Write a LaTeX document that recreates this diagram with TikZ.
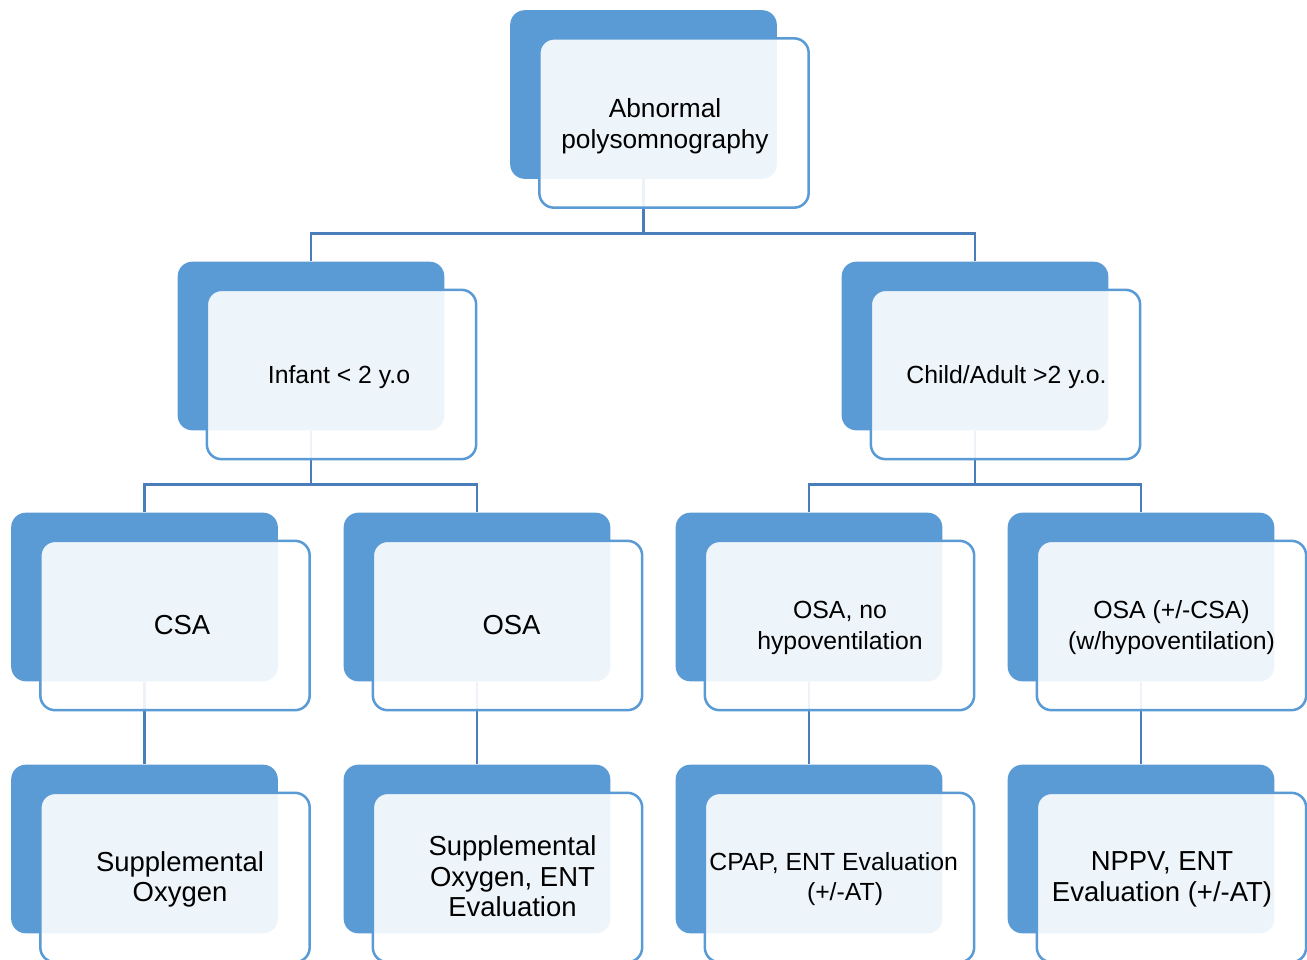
\documentclass[tikz,border=0pt]{standalone}
\usepackage{fontspec}
\setmainfont{Liberation Sans}
\usetikzlibrary{positioning}
\definecolor{boxblue}{HTML}{5B9BD5}
\definecolor{lineblue}{HTML}{4A7EBB}

\begin{document}
\begin{tikzpicture}[x=0.75pt,y=-0.75pt,
  back/.style={fill=boxblue,rounded corners=11pt,minimum width=200pt,minimum height=126.5pt,inner sep=0pt},
  front/.style={draw=boxblue,line width=1.9pt,fill=white,fill opacity=0.9,rounded corners=11pt,
    minimum width=202pt,minimum height=127pt,inner sep=0pt},
  conn/.style={draw=lineblue,line width=2.2pt},
  txt/.style={align=center,inner sep=0pt},
  big/.style={txt,font=\fontsize{20.6}{23}\selectfont},
  small/.style={txt,font=\fontsize{18.6}{23}\selectfont}]
\useasboundingbox (0,0) rectangle (1307,960);

% back boxes
\node[back] (apsgbk) at (643.5,94.5) {};
\node[back] (infantbk) at (311,346) {};
\node[back] (childbk) at (975,346) {};
\node[back] (csabk) at (144.5,597) {};
\node[back] (osabk) at (477,597) {};
\node[back] (osanobk) at (809,597) {};
\node[back] (osahypobk) at (1141,597) {};
\node[back] (oxybk) at (144.5,849) {};
\node[back] (oxyentbk) at (477,849) {};
\node[back] (cpapbk) at (809,849) {};
\node[back] (nppvbk) at (1141,849) {};

% connectors
\draw[conn] (apsgbk.south) |- ([yshift=20.6pt]infantbk.north) -- (infantbk.north);
\draw[conn] (apsgbk.south) |- ([yshift=20.6pt]childbk.north) -- (childbk.north);
\draw[conn] (infantbk.south) |- ([yshift=20.6pt]csabk.north) -- (csabk.north);
\draw[conn] (infantbk.south) |- ([yshift=20.6pt]osabk.north) -- (osabk.north);
\draw[conn] (childbk.south) |- ([yshift=20.6pt]osanobk.north) -- (osanobk.north);
\draw[conn] (childbk.south) |- ([yshift=20.6pt]osahypobk.north) -- (osahypobk.north);
\draw[conn] (csabk.south) -- (oxybk.north);
\draw[conn] (osabk.south) -- (oxyentbk.north);
\draw[conn] (osanobk.south) -- (cpapbk.north);
\draw[conn] (osahypobk.south) -- (nppvbk.north);

% front boxes
\node[front] (apsg) at ([shift={(30.5,28.5)}]apsgbk.center) {};
\node[front] (infant) at ([shift={(30.5,28.5)}]infantbk.center) {};
\node[front] (child) at ([shift={(30.5,28.5)}]childbk.center) {};
\node[front] (csa) at ([shift={(30.5,28.5)}]csabk.center) {};
\node[front] (osa) at ([shift={(30.5,28.5)}]osabk.center) {};
\node[front] (osano) at ([shift={(30.5,28.5)}]osanobk.center) {};
\node[front] (osahypo) at ([shift={(30.5,28.5)}]osahypobk.center) {};
\node[front] (oxy) at ([shift={(30.5,28.5)}]oxybk.center) {};
\node[front] (oxyent) at ([shift={(30.5,28.5)}]oxyentbk.center) {};
\node[front] (cpap) at ([shift={(30.5,28.5)}]cpapbk.center) {};
\node[front] (nppv) at ([shift={(30.5,28.5)}]nppvbk.center) {};

% texts
\node[txt,font=\fontsize{19.7}{23}\selectfont] (apsgtxt) at ([shift={(-9,3)}]apsg.center) {Abnormal\\polysomnography};
\node[small] (infanttxt) at ([shift={(-2.5,3)}]infant.center) {Infant < 2 y.o};
\node[small] (childtxt) at ([shift={(1,3)}]child.center) {Child/Adult >2 y.o.};
\node[big] (csatxt) at ([shift={(7,0)}]csa.center) {CSA};
\node[big] (osatxt) at ([shift={(4,0)}]osa.center) {OSA};
\node[small] (osanotxt) at ([shift={(0.5,2.5)}]osano.center) {OSA, no\\hypoventilation};
\node[small] (osahypotxt) at ([shift={(0,2)}]osahypo.center) {OSA (+/-CSA)\\(w/hypoventilation)};
\node[big] (oxytxt) at ([shift={(5,2)}]oxy.center) {Supplemental\\Oxygen};
\node[big] (oxyenttxt) at ([shift={(5,-1)}]oxyent.center) {Supplemental\\Oxygen, ENT\\Evaluation};
\node[small] (cpaptxt) at ([shift={(5.5,1.5)}]cpap.center) {CPAP, ENT Evaluation\hspace*{17pt}\\(+/-AT)};
\node[big] (nppvtxt) at ([shift={(-9.5,2)}]nppv.center) {NPPV, ENT\\Evaluation (+/-AT)};
\end{tikzpicture}
\end{document}
